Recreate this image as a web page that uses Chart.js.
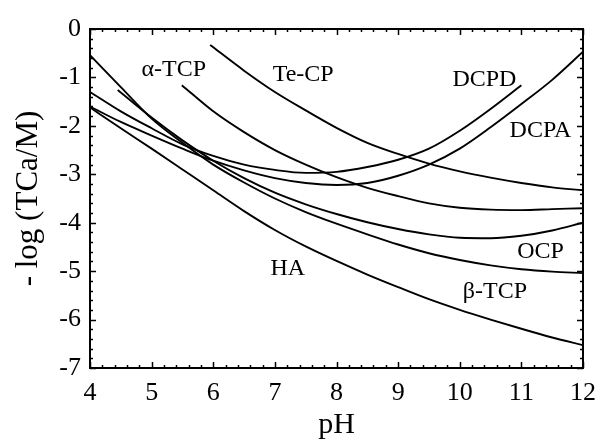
<!DOCTYPE html>
<html>
<head>
<meta charset="utf-8">
<script src="https://cdn.jsdelivr.net/npm/chart.js@4.4.1/dist/chart.umd.min.js"></script>
<style>
  html, body { margin: 0; padding: 0; background: #ffffff; }
  #wrap { width: 596px; height: 443px; }
</style>
</head>
<body>
<div id="wrap"><canvas id="c" width="596" height="443"></canvas></div>
<script>
// ---- data ----
const xTickLabels = ['4', '5', '6', '7', '8', '9', '10', '11', '12'];
const yTickLabels = ['0', '-1', '-2', '-3', '-4', '-5', '-6', '-7'];

const haPH   = [4, 4.5, 5, 5.5, 6, 6.5, 7, 7.5, 8, 8.5, 9, 9.5, 10, 10.5, 11, 11.5, 12];
const haLog  = [-1.62, -2.05, -2.47, -2.9, -3.33, -3.76, -4.15, -4.49, -4.79, -5.07, -5.33, -5.58, -5.8, -6.0, -6.19, -6.37, -6.53];

const btcpPH  = [4, 4.5, 5, 5.5, 6, 6.5, 7, 7.5, 8, 8.5, 9, 9.5, 10, 10.5, 11, 11.5, 12];
const btcpLog = [-0.54, -1.2, -1.85, -2.35, -2.8, -3.17, -3.5, -3.78, -4.02, -4.24, -4.45, -4.63, -4.77, -4.88, -4.96, -5.01, -5.04];

const ocpPH  = [4.45, 5, 5.5, 6, 6.5, 7, 7.5, 8, 8.5, 9, 9.5, 10, 10.5, 11, 11.5, 12];
const ocpLog = [-1.26, -1.83, -2.3, -2.72, -3.08, -3.38, -3.62, -3.82, -3.99, -4.13, -4.24, -4.31, -4.32, -4.27, -4.16, -4.0];

const dcpdPH  = [4, 4.5, 5, 5.5, 6, 6.5, 7, 7.5, 8, 8.5, 9, 9.5, 10, 10.5, 11];
const dcpdLog = [-1.3, -1.7, -2.05, -2.38, -2.62, -2.8, -2.91, -2.97, -2.95, -2.85, -2.7, -2.47, -2.1, -1.65, -1.16];

const dcpaPH  = [4, 4.5, 5, 5.5, 6, 6.5, 7, 7.5, 8, 8.5, 9, 9.5, 10, 10.5, 11, 11.5, 12];
const dcpaLog = [-1.6, -1.92, -2.2, -2.47, -2.72, -2.92, -3.08, -3.18, -3.22, -3.18, -3.03, -2.8, -2.47, -2.03, -1.55, -1.05, -0.47];

const atcpPH  = [5.49, 6, 6.5, 7, 7.5, 8, 8.5, 9, 9.5, 10, 10.5, 11, 11.5, 12];
const atcpLog = [-1.16, -1.7, -2.13, -2.5, -2.8, -3.06, -3.28, -3.45, -3.6, -3.69, -3.73, -3.74, -3.72, -3.7];

const tecpPH  = [5.95, 6.5, 7, 7.5, 8, 8.5, 9, 9.5, 10, 10.5, 11, 11.5, 12];
const tecpLog = [-0.33, -0.86, -1.3, -1.68, -2.04, -2.35, -2.58, -2.78, -2.94, -3.07, -3.18, -3.27, -3.33];

const curveNames = ['HA', 'β-TCP', 'OCP', 'DCPD', 'DCPA', 'α-TCP', 'Te-CP'];

// ---- chart construction ----
function pts(xs, ys) { return xs.map((x, i) => ({ x: x, y: ys[i] })); }
const seriesList = [
  [haPH, haLog], [btcpPH, btcpLog], [ocpPH, ocpLog], [dcpdPH, dcpdLog],
  [dcpaPH, dcpaLog], [atcpPH, atcpLog], [tecpPH, tecpLog]
];

const datasets = seriesList.map((s, i) => ({
  label: curveNames[i],
  data: pts(s[0], s[1]),
  borderColor: '#000',
  borderWidth: 1.9,
  pointRadius: 0,
  fill: false,
  cubicInterpolationMode: 'monotone'
}));

// label placements (data coordinates)
const curveLabelPos = [
  { t: 'α-TCP', x: 5.36, y: -0.85 },
  { t: 'Te-CP', x: 7.46, y: -0.95 },
  { t: 'DCPD',  x: 10.40, y: -1.05 },
  { t: 'DCPA',  x: 11.31, y: -2.09 },
  { t: 'OCP',   x: 11.31, y: -4.59 },
  { t: 'β-TCP', x: 10.57, y: -5.43 },
  { t: 'HA',    x: 7.21, y: -4.94 }
];

const SERIF = "'Liberation Serif', 'DejaVu Serif', serif";

const framePlugin = {
  id: 'frame',
  afterDatasetsDraw(chart) {
    const { ctx, chartArea: a, scales } = chart;
    const xs = scales.x, ys = scales.y;
    ctx.save();
    ctx.strokeStyle = '#000';
    // ticks
    ctx.lineWidth = 1.5;
    ctx.beginPath();
    for (let k = 0; k <= 40; k++) {
      const v = 4 + k * 0.2;
      const major = k % 5 === 0;
      const len = major ? 6 : 3;
      const px = Math.round(xs.getPixelForValue(v)) + 0.5;
      ctx.moveTo(px, a.bottom); ctx.lineTo(px, a.bottom - len);
      ctx.moveTo(px, a.top); ctx.lineTo(px, a.top + len);
    }
    for (let k = 0; k <= 35; k++) {
      const v = -7 + k * 0.2;
      const major = k % 5 === 0;
      const len = major ? 6 : 3;
      const py = Math.round(ys.getPixelForValue(v)) + 0.5;
      ctx.moveTo(a.left, py); ctx.lineTo(a.left + len, py);
      ctx.moveTo(a.right, py); ctx.lineTo(a.right - len, py);
    }
    ctx.stroke();
    // box
    ctx.lineWidth = 2;
    ctx.strokeRect(a.left, a.top, a.right - a.left, a.bottom - a.top);
    // curve labels
    ctx.fillStyle = '#000';
    ctx.font = '24px ' + SERIF;
    ctx.textAlign = 'center';
    ctx.textBaseline = 'middle';
    curveLabelPos.forEach(l => {
      ctx.fillText(l.t, xs.getPixelForValue(l.x), ys.getPixelForValue(l.y));
    });
    ctx.restore();
  }
};

new Chart(document.getElementById('c'), {
  type: 'line',
  data: { datasets: datasets },
  options: {
    responsive: false,
    animation: false,
    devicePixelRatio: 1,
    layout: { padding: { top: 29, right: 13, left: 0, bottom: 0 } },
    plugins: { legend: { display: false }, tooltip: { enabled: false } },
    scales: {
      x: {
        type: 'linear', min: 4, max: 12,
        grid: { display: false, drawTicks: false },
        border: { display: false },
        ticks: {
          stepSize: 1, padding: 10, color: '#000',
          font: { family: SERIF, size: 26 },
          callback: (v) => { const i = Math.round(v) - 4; return xTickLabels[i]; }
        },
        title: {
          display: true, text: 'pH', color: '#000',
          font: { family: SERIF, size: 30 },
          padding: { top: 0, bottom: 0 }
        },
        afterFit(scale) { scale.height = 75; scale.paddingLeft = 0; scale.paddingRight = 0; }
      },
      y: {
        type: 'linear', min: -7, max: 0,
        grid: { display: false, drawTicks: false },
        border: { display: false },
        ticks: {
          stepSize: 1, padding: 9, color: '#000',
          font: { family: SERIF, size: 26 },
          callback: (v) => { const i = -Math.round(v); return yTickLabels[i]; }
        },
        title: {
          display: true, text: '- log (TCa/M)', color: '#000',
          font: { family: SERIF, size: 31 },
          padding: { top: 10, bottom: 0 }
        },
        afterFit(scale) { scale.width = 90; scale.paddingTop = 0; scale.paddingBottom = 0; }
      }
    }
  },
  plugins: [framePlugin]
});
</script>
</body>
</html>
